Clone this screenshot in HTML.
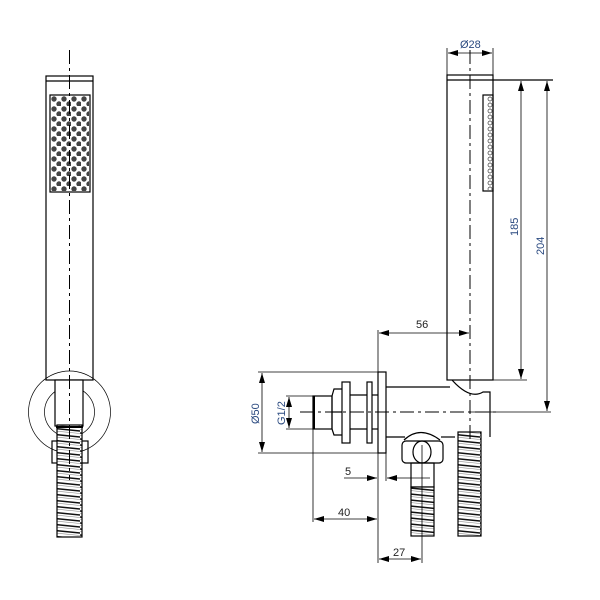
<!DOCTYPE html>
<html><head><meta charset="utf-8"><style>
html,body{margin:0;padding:0;background:#fff;width:600px;height:600px;overflow:hidden}
text{font-family:"Liberation Sans","DejaVu Sans",sans-serif;font-size:11px}
</style></head><body>
<svg width="600" height="600" viewBox="0 0 600 600" xmlns="http://www.w3.org/2000/svg">
<defs>
<pattern id="hose" patternUnits="userSpaceOnUse" width="40" height="6">
<rect width="40" height="6" fill="#fff"/>
<path d="M0,1 L40,5" stroke="#111" stroke-width="1.4"/>
<path d="M0,3.5 L40,7.5 M0,-2.5 L40,1.5" stroke="#888" stroke-width="0.6"/>
</pattern>
<pattern id="dots" patternUnits="userSpaceOnUse" x="51" y="96" width="10" height="10">
<circle cx="3" cy="3" r="2.7" fill="#444"/>
<circle cx="8" cy="8" r="2.7" fill="#444"/>
</pattern>
<pattern id="sdots" patternUnits="userSpaceOnUse" x="487" y="96" width="6" height="6">
<circle cx="3" cy="3" r="2" fill="none" stroke="#333" stroke-width="0.7"/>
</pattern>
<marker id="a" markerWidth="10" markerHeight="6" refX="10" refY="3" orient="auto" markerUnits="userSpaceOnUse"><path d="M0,0 L10,3 L0,6 z" fill="#000"/></marker>
</defs>
<g fill="none" stroke="#000" stroke-width="1.2">
<!-- LEFT handle -->
<rect x="46" y="76" width="47" height="304"/>
<line x1="46" y1="81" x2="93" y2="81"/>
<rect x="51" y="96" width="38" height="95" fill="url(#dots)" stroke="none"/>
<rect x="50" y="95" width="40" height="97"/>
<circle cx="69.5" cy="412" r="41" stroke-width="0.7"/>
<circle cx="69.5" cy="412" r="25" stroke-width="0.7"/>
<rect x="55" y="380" width="28" height="46" fill="#fff"/>
<rect x="52" y="441" width="36" height="22"/>
<rect x="57" y="425" width="25" height="112" fill="url(#hose)"/>
<line x1="56" y1="427" x2="83" y2="427" stroke-width="2"/>
<line x1="69.5" y1="50" x2="69.5" y2="480" stroke-dasharray="14,4,3,4" stroke-width="1"/>

<!-- RIGHT handle -->
<rect x="447" y="75" width="46" height="305"/>
<line x1="447" y1="80" x2="553" y2="80"/>
<rect x="487" y="96" width="6" height="94" fill="url(#sdots)" stroke="none"/>
<rect x="483" y="95" width="10" height="96"/>
<path d="M452,380 Q470,400 483,392 L490,392 L490,437" />
<!-- wall plate & body -->
<rect x="378" y="372" width="8" height="81"/>
<line x1="386" y1="387" x2="450" y2="387"/>
<line x1="386" y1="437" x2="405" y2="437"/>
<line x1="441" y1="437" x2="455" y2="437"/>
<path d="M404,440 Q420,425 440,440"/>
<rect x="342" y="382" width="8" height="61" fill="#fff"/>
<rect x="367" y="382" width="5" height="61" fill="#fff"/>
<line x1="350" y1="395" x2="367" y2="395"/><line x1="350" y1="429" x2="367" y2="429"/>
<line x1="372" y1="395" x2="378" y2="395"/><line x1="372" y1="429" x2="378" y2="429"/>
<path d="M342,389 L334,389 L332,396 L332,429 L334,435 L342,435"/>
<line x1="332" y1="412" x2="342" y2="412"/>
<rect x="313" y="396" width="19" height="33"/>
<line x1="314" y1="396" x2="314" y2="429" stroke-width="2"/>
<!-- elbow nut -->
<rect x="402" y="441" width="41" height="22" rx="4"/>
<ellipse cx="422" cy="452" rx="9" ry="11"/>
<rect x="411" y="463" width="23" height="24"/>
<rect x="411" y="487" width="23" height="49" fill="url(#hose)"/>
<rect x="458" y="432" width="23" height="104" fill="url(#hose)"/>
<!-- centre lines -->
<line x1="470" y1="50" x2="470" y2="440" stroke-dasharray="14,4,3,4" stroke-width="1"/>
<line x1="300" y1="412" x2="500" y2="412" stroke-dasharray="14,4,3,4" stroke-width="1"/>
<line x1="422" y1="445" x2="422" y2="563" stroke-width="0.8"/>
</g>
<g stroke="#000" stroke-width="0.8" fill="none">
<line x1="447" y1="75" x2="447" y2="48"/><line x1="493" y1="75" x2="493" y2="48"/>
<line x1="470" y1="53" x2="448" y2="53" marker-end="url(#a)"/><line x1="470" y1="53" x2="492" y2="53" marker-end="url(#a)"/>
<line x1="493" y1="380" x2="527" y2="380"/><line x1="470" y1="412" x2="551" y2="412"/>
<line x1="521" y1="230" x2="521" y2="81" marker-end="url(#a)"/><line x1="521" y1="230" x2="521" y2="379" marker-end="url(#a)"/>
<line x1="547" y1="230" x2="547" y2="81" marker-end="url(#a)"/><line x1="547" y1="230" x2="547" y2="411" marker-end="url(#a)"/>
<line x1="378" y1="330" x2="378" y2="563"/>
<line x1="420" y1="333" x2="379" y2="333" marker-end="url(#a)"/><line x1="420" y1="333" x2="469" y2="333" marker-end="url(#a)"/>
<line x1="258" y1="372" x2="378" y2="372"/><line x1="258" y1="453" x2="378" y2="453"/>
<line x1="262" y1="412" x2="262" y2="373" marker-end="url(#a)"/><line x1="262" y1="412" x2="262" y2="452" marker-end="url(#a)"/>
<line x1="286" y1="396" x2="313" y2="396"/><line x1="286" y1="429" x2="313" y2="429"/>
<line x1="289" y1="412" x2="289" y2="397" marker-end="url(#a)"/><line x1="289" y1="412" x2="289" y2="428" marker-end="url(#a)"/>
<line x1="386" y1="453" x2="386" y2="481"/>
<line x1="344" y1="478" x2="377" y2="478" marker-end="url(#a)"/><line x1="430" y1="478" x2="387" y2="478" marker-end="url(#a)"/>
<line x1="313" y1="429" x2="313" y2="522"/>
<line x1="345" y1="519" x2="314" y2="519" marker-end="url(#a)"/><line x1="345" y1="519" x2="377" y2="519" marker-end="url(#a)"/>
<line x1="400" y1="559" x2="379" y2="559" marker-end="url(#a)"/><line x1="400" y1="559" x2="421" y2="559" marker-end="url(#a)"/>
</g>
<g fill="#222">
<text x="460" y="48" fill="#2b4a80">Ø28</text>
<text x="416" y="328">56</text>
<text x="345" y="475">5</text>
<text x="338" y="516">40</text>
<text x="393" y="556">27</text>
<text transform="translate(518,236) rotate(-90)" fill="#2b4a80">185</text>
<text transform="translate(544,255) rotate(-90)" fill="#2b4a80">204</text>
<text transform="translate(259,424) rotate(-90)" fill="#2b4a80">Ø50</text>
<text transform="translate(285,425) rotate(-90)" fill="#2b4a80">G1/2</text>
</g>
</svg>
</body></html>
